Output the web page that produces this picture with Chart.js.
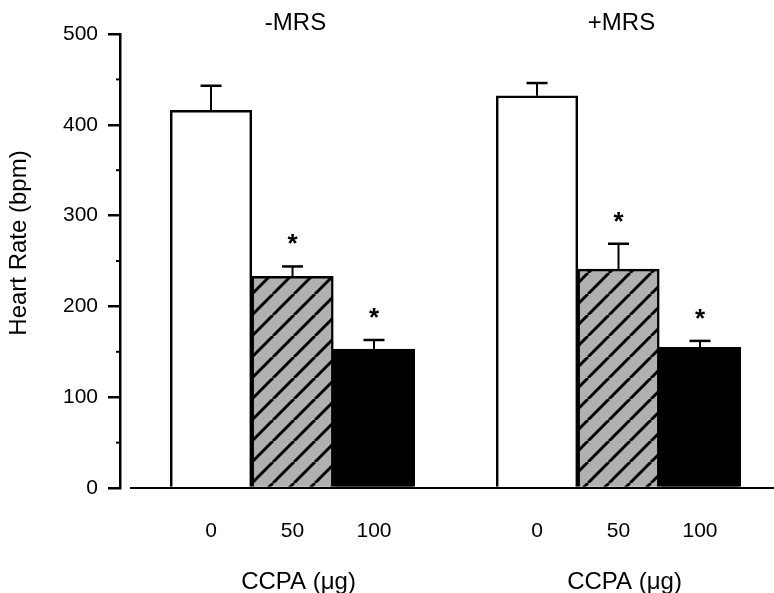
<!DOCTYPE html>
<html>
<head>
<meta charset="utf-8">
<script src="https://cdn.jsdelivr.net/npm/chart.js@4"></script>
<style>
  html, body { margin: 0; padding: 0; background: #fff; }
  canvas { display: block; }
</style>
</head>
<body>
<canvas id="hr" width="774" height="593"></canvas>
<script>
// values
const groups = [`-MRS`, `+MRS`];
const doses = [`0`, `50`, `100`];
const meanMinus = [416, 233, 153];
const semMinus = [27, 11, 10];
const meanPlus = [432, 241, 155];
const semPlus = [14, 28, 7];
const sigMinus = [false, true, true];
const sigPlus = [false, true, true];
const yTicks = [0, 100, 200, 300, 400, 500];

const FONT = `"Liberation Sans", Arial, sans-serif`;

// diagonal hatch on grey, like the 50 µg bars
const makeHatch = () => {
  const s = 21;
  const c = document.createElement(`canvas`);
  c.width = s;
  c.height = s;
  const g = c.getContext(`2d`);
  g.fillStyle = `#b0b0b0`;
  g.fillRect(0, 0, s, s);
  g.strokeStyle = `#000`;
  g.lineWidth = 3;
  for (let k = -1; k <= 1; k++) {
    g.beginPath();
    g.moveTo(k * s, s);
    g.lineTo(k * s + s, 0);
    g.stroke();
  }
  return g.createPattern(c, `repeat`);
};
const hatch = makeHatch();
const fills = [`#fff`, hatch, `#000`];

// one slot gap between the two groups
const xPos = (g, i) => g * 4 + i;

const means = [meanMinus, meanPlus];
const sems = [semMinus, semPlus];
const sigs = [sigMinus, sigPlus];

const points = [];
const colors = [];
const errs = [];
const stars = [];
groups.forEach((grp, g) => {
  doses.forEach((d, i) => {
    points.push({x: xPos(g, i), y: means[g][i]});
    colors.push(fills[i]);
    errs.push(sems[g][i]);
    stars.push(sigs[g][i]);
  });
});

const extras = {
  id: `extras`,
  beforeDraw(chart) {
    const ctx = chart.ctx;
    ctx.save();
    ctx.fillStyle = `#fff`;
    ctx.fillRect(0, 0, chart.width, chart.height);
    ctx.restore();
  },
  afterDatasetsDraw(chart) {
    const ctx = chart.ctx;
    const x = chart.scales.x;
    const y = chart.scales.y;
    ctx.save();
    ctx.strokeStyle = `#000`;
    ctx.fillStyle = `#000`;

    // error bars (upper only) and stars
    points.forEach((p, k) => {
      const px = x.getPixelForValue(p.x);
      const top = y.getPixelForValue(p.y);
      const cap = y.getPixelForValue(p.y + errs[k]);
      ctx.lineWidth = 2;
      ctx.beginPath();
      ctx.moveTo(px, top);
      ctx.lineTo(px, cap);
      ctx.stroke();
      ctx.lineWidth = 2.5;
      ctx.beginPath();
      ctx.moveTo(px - 10.5, cap);
      ctx.lineTo(px + 10.5, cap);
      ctx.stroke();
      if (stars[k]) {
        ctx.font = `bold 26px ${FONT}`;
        ctx.textAlign = `center`;
        ctx.textBaseline = `alphabetic`;
        ctx.fillText(`*`, px, cap - 29 + 15);
      }
    });

    // baseline, detached from the y axis
    ctx.lineWidth = 2;
    ctx.beginPath();
    ctx.moveTo(130, y.getPixelForValue(0));
    ctx.lineTo(chart.width, y.getPixelForValue(0));
    ctx.stroke();

    // minor ticks on the y axis
    ctx.lineWidth = 2;
    for (let v = 50; v < 500; v += 100) {
      const py = y.getPixelForValue(v);
      ctx.beginPath();
      ctx.moveTo(y.right - 4, py);
      ctx.lineTo(y.right, py);
      ctx.stroke();
    }

    // panel titles and x titles
    ctx.textAlign = `center`;
    ctx.textBaseline = `middle`;
    groups.forEach((grp, g) => {
      const cx = x.getPixelForValue(xPos(g, 1));
      ctx.font = `24px ${FONT}`;
      ctx.fillText(grp, cx + 3, 23);
      ctx.fillText(`CCPA (μg)`, cx + 6, 582);
    });

    // y title
    ctx.font = `24px ${FONT}`;
    ctx.translate(19, 243);
    ctx.rotate(-Math.PI / 2);
    ctx.fillText(`Heart Rate (bpm)`, 0, 0);
    ctx.restore();
  }
};

const chart = new Chart(document.getElementById(`hr`), {
  type: `bar`,
  data: {
    datasets: [{
      data: points,
      backgroundColor: colors,
      borderColor: `#000`,
      borderWidth: 2.5,
      borderSkipped: `start`,
      categoryPercentage: 1,
      barPercentage: 1,
    }]
  },
  options: {
    responsive: false,
    animation: false,
    layout: {padding: {top: 34, left: 0, right: 0, bottom: 0}},
    plugins: {
      legend: {display: false},
      tooltip: {enabled: false},
    },
    scales: {
      x: {
        type: `linear`,
        offset: false,
        min: -1.117,
        max: 6.908,
        grid: {display: false, drawTicks: false},
        border: {display: false},
        afterFit: (scale) => {
          scale.height = 105;
        },
        afterBuildTicks: (scale) => {
          scale.ticks = points.map((p) => ({value: p.x}));
        },
        ticks: {
          autoSkip: false,
          maxRotation: 0,
          padding: 31,
          color: `#000`,
          font: {family: FONT, size: 21},
          callback: (value, index) => doses[index % doses.length],
        },
      },
      y: {
        min: 0,
        max: 500,
        afterFit: (scale) => {
          scale.width = 120;
        },
        afterBuildTicks: (scale) => {
          scale.ticks = yTicks.map((v) => ({value: v}));
        },
        grid: {
          drawOnChartArea: false,
          drawTicks: true,
          tickLength: 12,
          color: `#000`,
          lineWidth: 2.5,
        },
        border: {display: true, color: `#000`, width: 2.5},
        ticks: {
          padding: 10,
          color: `#000`,
          font: {family: FONT, size: 21},
        },
      },
    },
  },
  plugins: [extras],
});
</script>
</body>
</html>
